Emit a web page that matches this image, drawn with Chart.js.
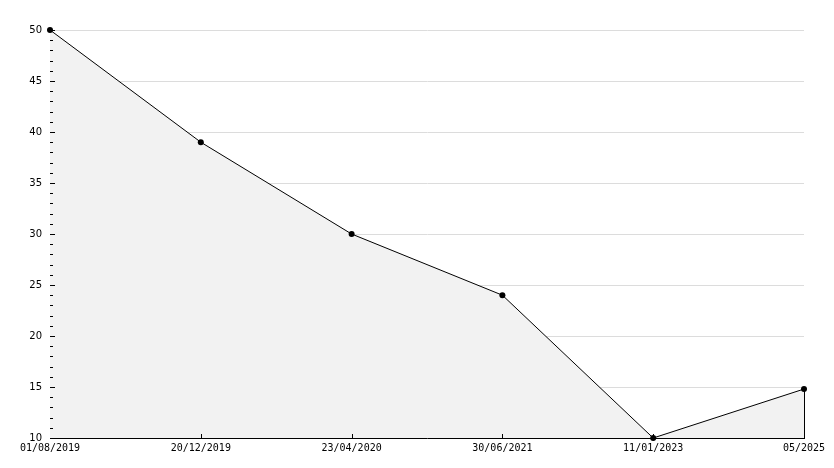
<!DOCTYPE html>
<html>
<head>
<meta charset="utf-8">
<script src="https://cdn.jsdelivr.net/npm/chart.js@4/dist/chart.umd.min.js"></script>
<style>
  html, body { margin: 0; padding: 0; background: #fff; }
  #wrap { width: 834px; height: 468px; }
</style>
</head>
<body>
<div id="wrap"><canvas id="myChart" width="834" height="468"></canvas></div>
<script>
var dates = ['01/08/2019', '20/12/2019', '23/04/2020', '30/06/2021', '11/01/2023', '05/2025'];
var values = [50, 39, 30, 24, 10, 14.8];
var yTicks = [10, 15, 20, 25, 30, 35, 40, 45, 50];

// little tick marks drawn inside the plot, plus the closing edge of the fill
var innerTicks = {
    id: 'innerTicks',
    beforeDatasetsDraw: function (chart) {
        var c = chart.ctx, x = chart.scales.x, y = chart.scales.y;
        var area = chart.chartArea;
        c.save();
        c.strokeStyle = '#000';
        c.lineWidth = 1;
        c.beginPath();
        var last = dates.length - 1;
        var lx = Math.round(x.getPixelForValue(last)) + 0.5;
        c.moveTo(lx, y.getPixelForValue(values[last]));
        c.lineTo(lx, area.bottom);
        c.stroke();
        c.restore();
    },
    afterDatasetsDraw: function (chart) {
        var c = chart.ctx, x = chart.scales.x, y = chart.scales.y;
        var area = chart.chartArea;
        c.save();
        c.strokeStyle = '#000';
        c.lineWidth = 1;
        c.beginPath();
        for (var v = yTicks[0]; v <= yTicks[yTicks.length - 1]; v++) {
            var py = Math.round(y.getPixelForValue(v)) + 0.5;
            var len = (v % 5 === 0) ? 5 : 3;
            c.moveTo(area.left, py);
            c.lineTo(area.left + len, py);
        }
        for (var i = 1; i < dates.length; i++) {
            var px = Math.round(x.getPixelForValue(i)) + 0.5;
            c.moveTo(px, area.bottom);
            c.lineTo(px, area.bottom - 4);
        }
        c.stroke();
        c.restore();
    }
};

var ctx = document.getElementById('myChart').getContext('2d');
var myChart = new Chart(ctx, {
    type: 'line',
    data: {
        labels: dates,
        datasets: [{
            data: values,
            fill: 'start',
            clip: false,
            backgroundColor: '#f2f2f2',
            borderColor: '#000',
            borderWidth: 1,
            tension: 0,
            pointRadius: 3,
            pointBackgroundColor: '#000',
            pointBorderColor: '#000',
            pointBorderWidth: 0
        }]
    },
    options: {
        responsive: false,
        animation: false,
        layout: { padding: { top: 30, right: 30, left: 0, bottom: 0 } },
        plugins: {
            legend: { display: false },
            tooltip: { enabled: false }
        },
        scales: {
            x: {
                type: 'category',
                offset: false,
                grid: { display: false, drawTicks: false },
                border: { display: true, color: '#000', width: 1 },
                ticks: {
                    color: '#000',
                    padding: 4,
                    maxRotation: 0,
                    autoSkip: false,
                    font: { family: 'DejaVu Sans Mono', size: 10 }
                },
                afterFit: function (s) { s.height = 30; }
            },
            y: {
                min: 10,
                max: 50,
                afterBuildTicks: function (s) {
                    s.ticks = yTicks.map(function (v) { return { value: v }; });
                },
                grid: { color: '#dcdcdc', drawTicks: false },
                border: { display: true, color: '#000', width: 1 },
                ticks: {
                    color: '#000',
                    padding: 8,
                    font: { family: 'DejaVu Sans', size: 10 }
                },
                afterFit: function (s) { s.width = 50; }
            }
        }
    },
    plugins: [innerTicks]
});
</script>
</body>
</html>
